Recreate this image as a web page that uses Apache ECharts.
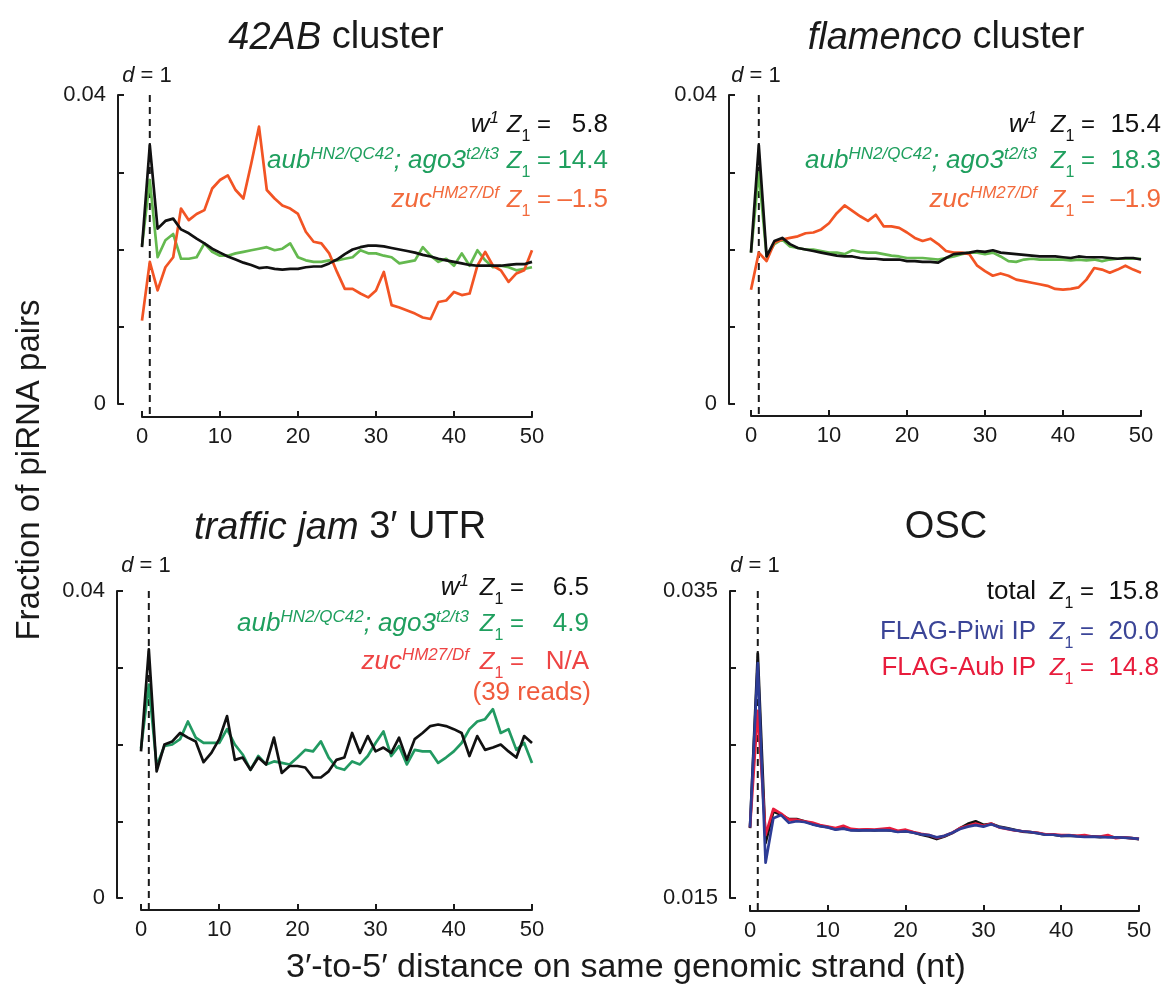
<!DOCTYPE html>
<html><head><meta charset="utf-8">
<script src="https://cdn.jsdelivr.net/npm/echarts@6.0.0/dist/echarts.min.js"></script>
<style>html,body{margin:0;padding:0;background:#fff}#c{width:1163px;height:993px}</style>
</head><body><div id="c"></div>
<script>
// ---------------- data ----------------
const distance = [0,1,2,3,4,5,6,7,8,9,10,11,12,13,14,15,16,17,18,19,20,21,22,23,24,25,26,27,28,29,30,31,32,33,34,35,36,37,38,39,40,41,42,43,44,45,46,47,48,49,50];

// 42AB cluster
const ab42_w1 = [0.0203,0.0335,0.0227,0.0237,0.0240,0.0226,0.0221,0.0214,0.0208,0.0201,
 0.0196,0.0191,0.0187,0.0183,0.0180,0.0176,0.0177,0.0175,0.0174,0.0175,
 0.0175,0.0177,0.0178,0.0178,0.0182,0.0187,0.0194,0.0200,0.0203,0.0205,
 0.0205,0.0204,0.0202,0.0200,0.0198,0.0196,0.0193,0.0191,0.0188,0.0186,
 0.0184,0.0182,0.0180,0.0179,0.0179,0.0179,0.0179,0.0180,0.0181,0.0181,
 0.0184];
const ab42_aubAgo3 = [0.0205,0.0290,0.0190,0.0212,0.0220,0.0188,0.0188,0.0190,0.0208,0.0197,
 0.0192,0.0192,0.0195,0.0197,0.0199,0.0201,0.0203,0.0199,0.0201,0.0208,
 0.0190,0.0186,0.0184,0.0184,0.0186,0.0186,0.0188,0.0190,0.0199,0.0195,
 0.0195,0.0192,0.0190,0.0182,0.0184,0.0186,0.0203,0.0192,0.0184,0.0188,
 0.0179,0.0195,0.0179,0.0199,0.0186,0.0177,0.0179,0.0177,0.0173,0.0175,
 0.0177];
const ab42_zuc = [0.0108,0.0184,0.0147,0.0177,0.0190,0.0253,0.0238,0.0246,0.0251,0.0279,
 0.0290,0.0296,0.0277,0.0266,0.0311,0.0359,0.0277,0.0266,0.0257,0.0253,
 0.0246,0.0223,0.0210,0.0208,0.0195,0.0171,0.0149,0.0149,0.0143,0.0138,
 0.0147,0.0171,0.0128,0.0125,0.0121,0.0117,0.0112,0.0110,0.0132,0.0134,
 0.0145,0.0141,0.0143,0.0179,0.0197,0.0179,0.0173,0.0158,0.0169,0.0173,
 0.0199];

// flamenco cluster
const flam_w1 = [0.0196,0.0335,0.0191,0.0211,0.0215,0.0207,0.0202,0.0200,0.0198,0.0196,
 0.0194,0.0192,0.0191,0.0191,0.0189,0.0188,0.0188,0.0187,0.0187,0.0187,
 0.0185,0.0185,0.0184,0.0184,0.0183,0.0189,0.0194,0.0195,0.0196,0.0198,
 0.0197,0.0199,0.0196,0.0195,0.0194,0.0193,0.0192,0.0191,0.0191,0.0191,
 0.0190,0.0189,0.0191,0.0190,0.0190,0.0190,0.0189,0.0188,0.0189,0.0189,
 0.0187];
const flam_aubAgo3 = [0.0196,0.0300,0.0191,0.0207,0.0213,0.0204,0.0202,0.0200,0.0200,0.0198,
 0.0196,0.0196,0.0194,0.0199,0.0197,0.0196,0.0196,0.0194,0.0192,0.0191,
 0.0189,0.0189,0.0189,0.0188,0.0187,0.0189,0.0191,0.0194,0.0196,0.0196,
 0.0194,0.0196,0.0191,0.0185,0.0184,0.0187,0.0188,0.0187,0.0187,0.0187,
 0.0187,0.0186,0.0187,0.0186,0.0187,0.0185,0.0187,0.0188,0.0188,0.0188,
 0.0188];
const flam_zuc = [0.0148,0.0196,0.0185,0.0209,0.0213,0.0215,0.0217,0.0221,0.0222,0.0226,
 0.0234,0.0247,0.0257,0.0250,0.0243,0.0237,0.0245,0.0230,0.0230,0.0228,
 0.0222,0.0215,0.0211,0.0214,0.0207,0.0198,0.0196,0.0196,0.0194,0.0179,
 0.0172,0.0166,0.0169,0.0166,0.0161,0.0159,0.0157,0.0155,0.0153,0.0149,
 0.0148,0.0149,0.0151,0.0161,0.0176,0.0174,0.0170,0.0174,0.0179,0.0174,
 0.0170];

// traffic jam 3' UTR
const tj_w1 = [0.0191,0.0324,0.0165,0.0200,0.0204,0.0215,0.0209,0.0204,0.0177,0.0189,
 0.0207,0.0237,0.0180,0.0183,0.0167,0.0183,0.0174,0.0209,0.0163,0.0172,
 0.0172,0.0170,0.0157,0.0157,0.0165,0.0180,0.0183,0.0215,0.0189,0.0211,
 0.0191,0.0196,0.0189,0.0209,0.0180,0.0207,0.0215,0.0224,0.0226,0.0224,
 0.0220,0.0215,0.0185,0.0211,0.0193,0.0196,0.0200,0.0191,0.0183,0.0211,
 0.0202];
const tj_aubAgo3 = [0.0195,0.0278,0.0172,0.0198,0.0200,0.0207,0.0230,0.0209,0.0202,0.0202,
 0.0202,0.0220,0.0200,0.0187,0.0167,0.0185,0.0174,0.0178,0.0176,0.0174,
 0.0183,0.0193,0.0191,0.0204,0.0183,0.0170,0.0167,0.0178,0.0174,0.0185,
 0.0202,0.0217,0.0185,0.0198,0.0174,0.0193,0.0191,0.0191,0.0176,0.0183,
 0.0191,0.0202,0.0220,0.0230,0.0233,0.0246,0.0215,0.0220,0.0193,0.0202,
 0.0176];

// OSC
const osc_total = [0.01955,0.03093,0.01858,0.02063,0.02042,0.02014,0.02014,0.02000,0.01983,0.01970,
 0.01962,0.01949,0.01955,0.01944,0.01940,0.01944,0.01940,0.01944,0.01940,0.01933,
 0.01935,0.01927,0.01912,0.01901,0.01884,0.01901,0.01923,0.01955,0.01983,0.02000,
 0.01977,0.01983,0.01966,0.01955,0.01944,0.01933,0.01929,0.01923,0.01912,0.01912,
 0.01904,0.01906,0.01904,0.01901,0.01901,0.01897,0.01901,0.01894,0.01894,0.01890,
 0.01884];
const osc_piwiIP = [0.01960,0.03030,0.01730,0.02020,0.02040,0.01990,0.02000,0.01995,0.01980,0.01968,
 0.01960,0.01945,0.01952,0.01940,0.01940,0.01940,0.01940,0.01942,0.01940,0.01930,
 0.01935,0.01925,0.01915,0.01910,0.01895,0.01905,0.01925,0.01950,0.01965,0.01975,
 0.01965,0.01980,0.01962,0.01952,0.01942,0.01935,0.01930,0.01922,0.01912,0.01912,
 0.01905,0.01908,0.01902,0.01898,0.01900,0.01898,0.01895,0.01895,0.01893,0.01890,
 0.01885];
const osc_aubIP = [0.01960,0.02720,0.01910,0.02080,0.02050,0.02010,0.02010,0.02000,0.01992,0.01975,
 0.01965,0.01955,0.01970,0.01950,0.01945,0.01948,0.01945,0.01950,0.01955,0.01938,
 0.01945,0.01930,0.01918,0.01910,0.01892,0.01905,0.01925,0.01955,0.01970,0.01985,
 0.01970,0.01985,0.01960,0.01950,0.01940,0.01935,0.01930,0.01925,0.01915,0.01915,
 0.01910,0.01910,0.01905,0.01910,0.01900,0.01900,0.01910,0.01890,0.01895,0.01890,
 0.01885];

// tick labels / Z scores
const xTicks = [0,10,20,30,40,50];
const yTickLabels = [['0','0.04'],['0','0.04'],['0','0.04'],['0.015','0.035']];
const z42AB = ['5.8','14.4','\u20131.5'];
const zFlam = ['15.4','18.3','\u20131.9'];
const zTj = ['6.5','4.9','N/A'];
const zOsc = ['15.8','20.0','14.8'];
const peakDistance = 1;

// ---------------- styling ----------------
const FONT = '"Liberation Sans", Arial, Helvetica, sans-serif';
const INK = '#1a1a1a';
const C_BLACK = '#111111';
const C_GREEN_LINE = '#64b94f';
const C_GREEN_TXT = '#1f9f5e';
const C_ORANGE = '#f25424';
const C_ORANGE_TXT = '#f26a3c';
const C_TEAL = '#229a62';
const C_RED_TXT = '#ee4444';
const C_BLUE = '#2d3c96';
const C_BLUE_TXT = '#3b4597';
const C_RED = '#e81c3c';

const TICK_FS = 22, LEG_FS = 26, ZEQ_FS = 24, TITLE_FS = 38, AX_FS = 34;
const LINE_H = 42;

const panels = [
  {grid:{left:142, top:95, width:390, height:309}, min:0, max:0.04, interval:0.01, yOff:24, xOff:13,
   series:[{d:ab42_aubAgo3, c:C_GREEN_LINE},{d:ab42_zuc, c:C_ORANGE},{d:ab42_w1, c:C_BLACK}]},
  {grid:{left:751, top:95, width:390, height:309}, min:0, max:0.04, interval:0.01, yOff:22, xOff:12,
   series:[{d:flam_aubAgo3, c:C_GREEN_LINE},{d:flam_zuc, c:C_ORANGE},{d:flam_w1, c:C_BLACK}]},
  {grid:{left:141, top:591, width:391, height:307}, min:0, max:0.04, interval:0.01, yOff:24, xOff:12,
   series:[{d:tj_aubAgo3, c:C_TEAL},{d:tj_w1, c:C_BLACK}]},
  {grid:{left:750, top:591, width:389, height:307}, min:0.015, max:0.035, interval:0.005, yOff:20, xOff:13,
   series:[{d:osc_total, c:C_BLACK},{d:osc_aubIP, c:C_RED},{d:osc_piwiIP, c:C_BLUE}]}
];

const grids = [], xAxes = [], yAxes = [], series = [];
panels.forEach((p, i) => {
  grids.push(Object.assign({containLabel:false}, p.grid));
  xAxes.push({
    type:'value', gridIndex:i, min:0, max:50, interval:10, offset:p.xOff,
    axisLine:{show:true, onZero:false, lineStyle:{color:INK, width:2}},
    axisTick:{show:true, inside:true, length:6, lineStyle:{color:INK, width:2}},
    axisLabel:{margin:9, fontSize:TICK_FS, color:INK, fontFamily:FONT,
      formatter: v => (xTicks.indexOf(Math.round(v)) >= 0 ? String(Math.round(v)) : '')},
    splitLine:{show:false}
  });
  const labs = yTickLabels[i];
  yAxes.push({
    type:'value', gridIndex:i, min:p.min, max:p.max, interval:p.interval, offset:p.yOff,
    axisLine:{show:true, onZero:false, lineStyle:{color:INK, width:2}},
    axisTick:{show:true, inside:true, length:6, lineStyle:{color:INK, width:2}},
    axisLabel:{margin:12, fontSize:TICK_FS, color:INK, fontFamily:FONT,
      formatter: v => Math.abs(v - p.min) < 1e-9 ? labs[0] : (Math.abs(v - p.max) < 1e-9 ? labs[1] : '')},
    splitLine:{show:false}
  });
  // dashed reference line at d = 1, running from the top tick down to the offset x axis line
  const dashEnd = p.min - p.xOff / p.grid.height * (p.max - p.min);
  series.push({
    type:'line', xAxisIndex:i, yAxisIndex:i, symbol:'none', clip:false, silent:true, animation:false,
    data:[[peakDistance, p.max],[peakDistance, dashEnd]],
    lineStyle:{color:INK, width:2, type:[7,5]}, z:1
  });
  p.series.forEach((s, k) => {
    series.push({
      type:'line', xAxisIndex:i, yAxisIndex:i, symbol:'none', showSymbol:false, clip:false,
      data: distance.map((x, j) => [x, s.d[j]]),
      lineStyle:{color:s.c, width:2.7, join:'round'}, itemStyle:{color:s.c},
      z: 2 + k, animation:false, silent:true
    });
  });
});

function mkRich(color, fs) {
  const base = {color, fontFamily:FONT, fontWeight:'normal'};
  const small = Math.round(fs * 0.65);
  return {
    n:Object.assign({fontSize:fs, lineHeight:LINE_H, verticalAlign:'middle'}, base),
    i:Object.assign({fontSize:fs, fontStyle:'italic', lineHeight:LINE_H, verticalAlign:'middle'}, base),
    sup:Object.assign({fontSize:small, fontStyle:'italic', lineHeight:10, verticalAlign:'top', padding:[6,0,0,0]}, base),
    sub:Object.assign({fontSize:small, lineHeight:10, verticalAlign:'bottom', padding:[0,0,1,0]}, base)
  };
}
function txt(text, x, y, align, color, fs) {
  return {text, left:x, top:y, textAlign:align, textVerticalAlign:'middle', padding:0,
    textStyle:{color, fontSize:fs, fontFamily:FONT, fontWeight:'normal', rich:mkRich(color, fs)}};
}

const titles = [];
// panel titles
titles.push(txt('{i|42AB}{n| cluster}', 336, 38, 'center', INK, TITLE_FS));
titles.push(txt('{i|flamenco}{n| cluster}', 946, 38, 'center', INK, TITLE_FS));
titles.push(txt('{i|traffic jam}{n| 3\u2032 UTR}', 340, 528, 'center', INK, TITLE_FS));
titles.push(txt('{n|OSC}', 946, 528, 'center', INK, TITLE_FS));
// d = 1 labels
[[147,76],[756,76],[146,566],[755,566]].forEach(q => titles.push(txt('{i|d}{n| = 1}', q[0], q[1], 'center', INK, TICK_FS)));

const ZEQ = '{i|Z}{sub|1}{n| =}';
function legend(rows, labelR, eqR, valR, ys, vals) {
  rows.forEach((r, k) => {
    titles.push(txt(r.t, labelR, ys[k], 'right', r.c, LEG_FS));
    titles.push(txt(ZEQ, eqR, ys[k], 'right', r.c, ZEQ_FS));
    titles.push(txt('{n|' + vals[k] + '}', valR, ys[k], 'right', r.c, LEG_FS));
  });
}
const W1 = '{i|w}{sup|1}';
const AUBAGO = '{i|aub}{sup|HN2/QC42}{i|; ago3}{sup|t2/t3}';
const ZUC = '{i|zuc}{sup|HM27/Df}';
legend([{t:W1,c:C_BLACK},{t:AUBAGO,c:C_GREEN_TXT},{t:ZUC,c:C_ORANGE_TXT}], 499, 551, 608, [125,161,200], z42AB);
legend([{t:W1,c:C_BLACK},{t:AUBAGO,c:C_GREEN_TXT},{t:ZUC,c:C_ORANGE_TXT}], 1037, 1095, 1161, [125,161,200], zFlam);
legend([{t:W1,c:C_BLACK},{t:AUBAGO,c:C_GREEN_TXT},{t:ZUC,c:C_RED_TXT}], 469, 524, 589, [588,624,662], zTj);
titles.push(txt('{n|(39 reads)}', 591, 693, 'right', '#f05a3c', LEG_FS));
legend([{t:'{n|total}',c:C_BLACK},{t:'{n|FLAG-Piwi IP}',c:C_BLUE_TXT},{t:'{n|FLAG-Aub IP}',c:C_RED}], 1036, 1094, 1159, [592,632,668], zOsc);
// x axis title
titles.push(txt('{n|3\u2032-to-5\u2032 distance on same genomic strand (nt)}', 626, 968, 'center', INK, AX_FS));

const chart = echarts.init(document.getElementById('c'), null, {renderer:'canvas'});
chart.setOption({
  backgroundColor:'#ffffff',
  animation:false,
  title: titles,
  grid: grids, xAxis: xAxes, yAxis: yAxes, series,
  graphic: [{
    type:'text', x:30, y:470, rotation:Math.PI/2,
    style:{text:'Fraction of piRNA pairs', fill:INK, font:'33px ' + FONT,
      align:'center', verticalAlign:'middle', textAlign:'center', textVerticalAlign:'middle'}
  }]
});
</script></body></html>
